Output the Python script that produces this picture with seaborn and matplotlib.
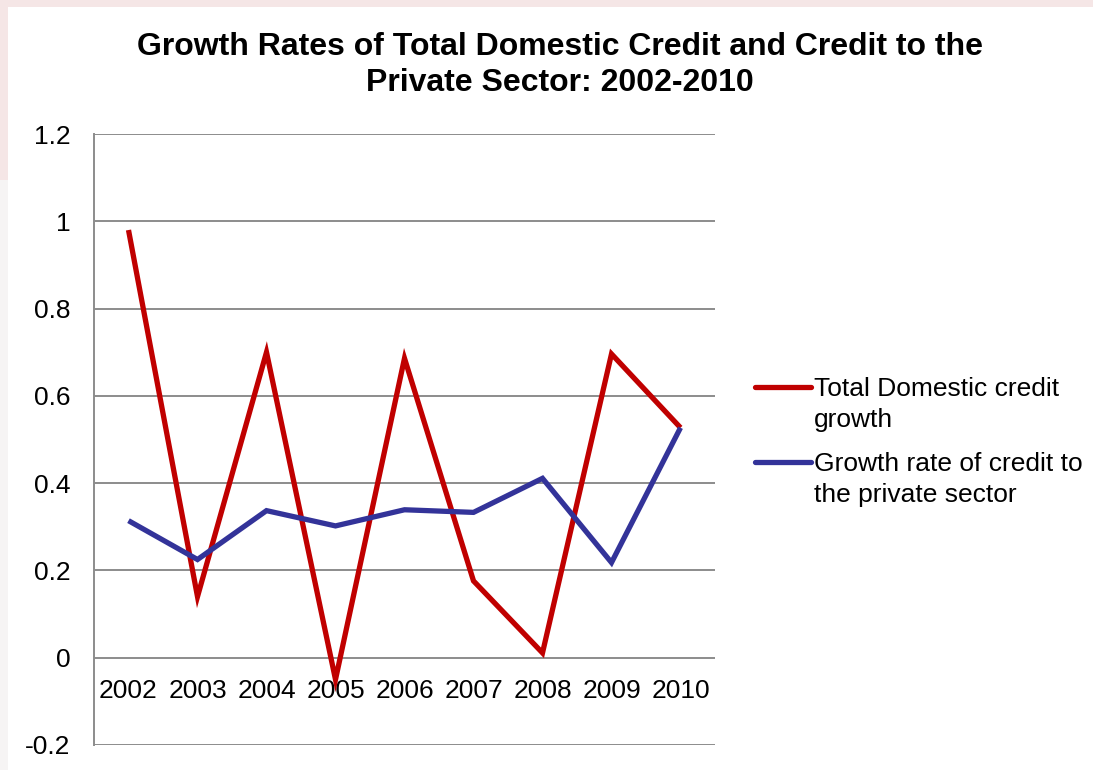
import matplotlib
matplotlib.use("Agg")
import matplotlib.pyplot as plt
from matplotlib.lines import Line2D
from matplotlib.patches import Rectangle
import seaborn as sns
import pandas as pd

# Data
years = ["2002", "2003", "2004", "2005", "2006", "2007", "2008", "2009", "2010"]
total_domestic = [0.98, 0.14, 0.70, -0.05, 0.686, 0.176, 0.011, 0.696, 0.527]
private_sector = [0.314, 0.225, 0.337, 0.302, 0.339, 0.333, 0.411, 0.218, 0.527]
series_names = ["Total Domestic credit growth", "Growth rate of credit to the private sector"]
legend_lines = [["Total Domestic credit", "growth"],
                ["Growth rate of credit to", "the private sector"]]
colors = ["#C00000", "#333399"]
yticks = [-0.2, 0, 0.2, 0.4, 0.6, 0.8, 1, 1.2]
ytick_labels = ["-0.2", "0", "0.2", "0.4", "0.6", "0.8", "1", "1.2"]
title_lines = ["Growth Rates of Total Domestic Credit and Credit to the",
               "Private Sector: 2002-2010"]

df = pd.DataFrame({
    "year": years * 2,
    "value": total_domestic + private_sector,
    "series": [series_names[0]] * len(years) + [series_names[1]] * len(years),
})

sns.set_style("white")
plt.rcParams["font.family"] = ["Liberation Sans", "DejaVu Sans"]
plt.rcParams["text.color"] = "black"

W, H = 1093, 770
fig = plt.figure(figsize=(W / 100, H / 100), dpi=100)
fig.patch.set_facecolor("white")

# faint page border bands
fig.add_artist(Rectangle((0, 1 - 7 / H), 1, 7 / H, transform=fig.transFigure,
                         facecolor="#f5e6e6", edgecolor="none", zorder=0))
fig.add_artist(Rectangle((0, 1 - 180 / H), 8 / W, 180 / H, transform=fig.transFigure,
                         facecolor="#f5e6e6", edgecolor="none", zorder=0))
fig.add_artist(Rectangle((0, 0), 8 / W, 1 - 180 / H, transform=fig.transFigure,
                         facecolor="#f6f4f4", edgecolor="none", zorder=0))

ax = fig.add_axes([94 / W, 1 - 745 / H, (715 - 94) / W, (745 - 134) / H])
ax.set_facecolor("white")

sns.lineplot(data=df, x="year", y="value", hue="series", palette=colors,
             linewidth=3.8, ax=ax, legend=False, sort=False)
for ln in ax.get_lines():
    ln.set_solid_joinstyle("miter")
    ln.set_solid_capstyle("butt")

ax.set_xlim(-0.5, len(years) - 0.5)
ax.set_ylim(-0.2, 1.2)
ax.set_yticks(yticks)
ax.set_yticklabels(ytick_labels)
ax.grid(axis="y", color="#8c8c8c", linewidth=1.4)
ax.grid(axis="x", visible=False)
ax.set_axisbelow(True)

for s in ["top", "right"]:
    ax.spines[s].set_visible(False)
ax.spines["left"].set_color("#8c8c8c")
ax.spines["left"].set_linewidth(1.4)
ax.spines["bottom"].set_position(("data", 0))
ax.spines["bottom"].set_visible(False)

ax.tick_params(axis="both", length=0, labelsize=19, colors="black")
ax.tick_params(axis="y", pad=17)
ax.tick_params(axis="x", pad=15)
ax.set_xlabel("")
ax.set_ylabel("")

title_y = [47, 83]
for txt, ty in zip(title_lines, title_y):
    fig.text(560 / W, 1 - ty / H, txt, ha="center", va="center", fontsize=23,
             fontweight="bold", color="black")

# legend
entry_y = [387, 462]
for i in range(2):
    y = 1 - entry_y[i] / H
    fig.add_artist(Line2D([755 / W, 811 / W], [y, y], transform=fig.transFigure,
                          color=colors[i], linewidth=3.8, solid_capstyle="round"))
    for j, txt in enumerate(legend_lines[i]):
        fig.text(814 / W, 1 - (entry_y[i] + 9 + 31 * j) / H, txt, ha="left",
                 va="baseline", fontsize=19, color="black")

fig.savefig("out.png", dpi=100, facecolor="white")
